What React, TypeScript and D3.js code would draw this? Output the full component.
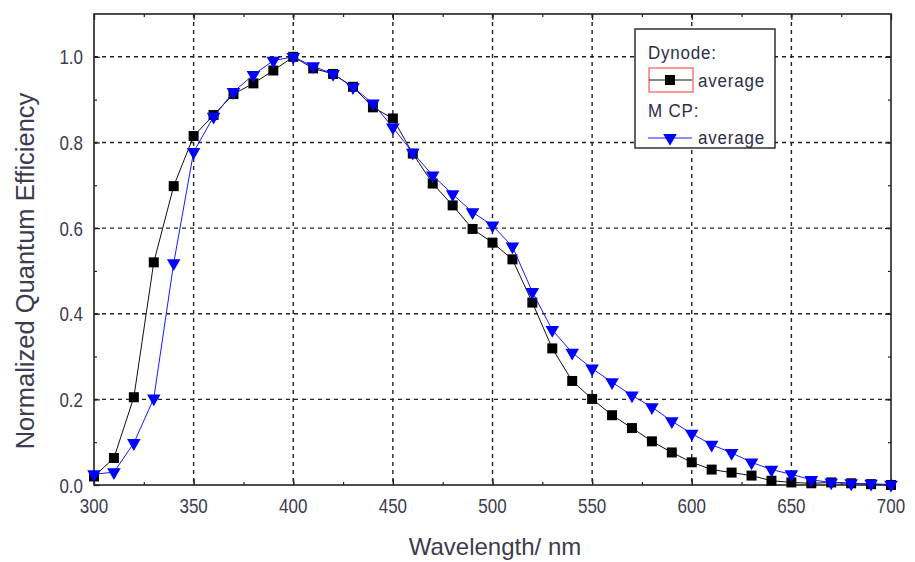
import React, { useEffect, useRef } from "react";
import * as d3 from "d3";

// wavelengths in nm, 10 nm steps
const wavelengths = [
  300, 310, 320, 330, 340, 350, 360, 370, 380, 390, 400, 410, 420, 430, 440,
  450, 460, 470, 480, 490, 500, 510, 520, 530, 540, 550, 560, 570, 580, 590,
  600, 610, 620, 630, 640, 650, 660, 670, 680, 690, 700,
];

const dynodeAvg = [
  0.02, 0.063, 0.205, 0.52, 0.698, 0.815, 0.864, 0.913, 0.938, 0.968, 1.0,
  0.973, 0.96, 0.93, 0.882, 0.856, 0.774, 0.704, 0.653, 0.598, 0.566, 0.527,
  0.426, 0.319, 0.243, 0.201, 0.163, 0.133, 0.102, 0.076, 0.053, 0.036, 0.029,
  0.022, 0.01, 0.006, 0.004, 0.006, 0.004, 0.002, 0.0,
];

const mcpAvg = [
  0.025, 0.03, 0.098, 0.202, 0.518, 0.778, 0.86, 0.918, 0.958, 0.991, 1.0,
  0.978, 0.96, 0.929, 0.891, 0.835, 0.776, 0.723, 0.679, 0.637, 0.606, 0.557,
  0.451, 0.362, 0.309, 0.272, 0.24, 0.209, 0.182, 0.149, 0.12, 0.094, 0.075,
  0.053, 0.036, 0.025, 0.012, 0.006, 0.004, 0.003, 0.001,
];

const xTicks = [300, 350, 400, 450, 500, 550, 600, 650, 700];
const yTicks = [0, 0.2, 0.4, 0.6, 0.8, 1.0];

const FONT = "'Liberation Sans', Arial, sans-serif";
const TEXT_COLOR = "#3c3c4e";

const App = () => {
  const ref = useRef<SVGSVGElement>(null);

  useEffect(() => {
    const left = 94;
    const right = 891;
    const top = 14;
    const bottom = 485;

    const x = d3.scaleLinear().domain([300, 700]).range([left, right]);
    const y = d3.scaleLinear().domain([0, 1.1]).range([bottom, top]);

    const svg = d3.select(ref.current);
    svg.selectAll("*").remove();

    // grid
    const grid = svg.append("g").attr("stroke", "#222").attr("stroke-width", 1.4)
      .attr("stroke-dasharray", "4,4");
    grid.selectAll("line.v")
      .data(xTicks.slice(1, -1))
      .enter().append("line")
      .attr("x1", (d) => x(d)).attr("x2", (d) => x(d))
      .attr("y1", top).attr("y2", bottom);
    grid.selectAll("line.h")
      .data(yTicks.slice(1))
      .enter().append("line")
      .attr("x1", left).attr("x2", right)
      .attr("y1", (d) => y(d)).attr("y2", (d) => y(d));

    // inward ticks on all four sides, no labels here
    const xMinor = d3.range(300, 701, 25);
    const yMinor = d3.range(0, 1.01, 0.1);
    const noLabel = () => "";
    const addTicks = (axis: any, tr: string) =>
      svg.append("g").attr("transform", tr).call(axis)
        .call((g: any) => g.select(".domain").remove());

    addTicks(d3.axisBottom(x).tickValues(xMinor).tickSize(-3).tickFormat(noLabel), `translate(0,${bottom})`);
    addTicks(d3.axisBottom(x).tickValues(xTicks).tickSize(-6).tickFormat(noLabel), `translate(0,${bottom})`);
    addTicks(d3.axisTop(x).tickValues(xMinor).tickSize(-3).tickFormat(noLabel), `translate(0,${top})`);
    addTicks(d3.axisTop(x).tickValues(xTicks).tickSize(-6).tickFormat(noLabel), `translate(0,${top})`);
    addTicks(d3.axisLeft(y).tickValues(yMinor).tickSize(-3).tickFormat(noLabel), `translate(${left},0)`);
    addTicks(d3.axisLeft(y).tickValues(yTicks).tickSize(-6).tickFormat(noLabel), `translate(${left},0)`);
    addTicks(d3.axisRight(y).tickValues(yMinor).tickSize(-3).tickFormat(noLabel), `translate(${right},0)`);
    addTicks(d3.axisRight(y).tickValues(yTicks).tickSize(-6).tickFormat(noLabel), `translate(${right},0)`);

    svg.selectAll(".tick line").attr("stroke", "#222").attr("stroke-width", 1.2);

    // tick labels (slightly tall glyphs, as in the source)
    const labels = svg.append("g").attr("font-family", FONT).attr("font-size", 17)
      .attr("fill", TEXT_COLOR);
    labels.selectAll("text.x")
      .data(xTicks).enter().append("text")
      .attr("text-anchor", "middle")
      .attr("transform", (d) => `translate(${x(d)},513) scale(1,1.18)`)
      .text((d) => d3.format("d")(d));
    labels.selectAll("text.y")
      .data(yTicks).enter().append("text")
      .attr("text-anchor", "end")
      .attr("transform", (d) => `translate(83,${y(d) + 7.5}) scale(1,1.18)`)
      .text((d) => d3.format(".1f")(d));

    // frame
    svg.append("rect")
      .attr("x", left).attr("y", top)
      .attr("width", right - left).attr("height", bottom - top)
      .attr("fill", "none").attr("stroke", "#222").attr("stroke-width", 1.6);

    const line = d3.line<number>()
      .x((d, i) => x(wavelengths[i]))
      .y((d) => y(d));

    const sq = d3.symbol().type(d3.symbolSquare).size(100);
    const tri = d3.symbol().type(d3.symbolTriangle).size(80);

    // Dynode series
    svg.append("path").datum(dynodeAvg)
      .attr("d", line).attr("fill", "none").attr("stroke", "#111").attr("stroke-width", 1);
    svg.append("g").selectAll("path")
      .data(dynodeAvg).enter().append("path")
      .attr("d", sq)
      .attr("transform", (d, i) => `translate(${x(wavelengths[i])},${y(d)})`)
      .attr("fill", "#000");

    // MCP series
    svg.append("path").datum(mcpAvg)
      .attr("d", line).attr("fill", "none").attr("stroke", "#1a1aff").attr("stroke-width", 1);
    svg.append("g").selectAll("path")
      .data(mcpAvg).enter().append("path")
      .attr("d", tri)
      .attr("transform", (d, i) => `translate(${x(wavelengths[i])},${y(d)}) rotate(180)`)
      .attr("fill", "#0000ff");

    // legend
    const lg = svg.append("g").attr("font-family", FONT).attr("font-size", 17)
      .attr("letter-spacing", 0.8).attr("fill", "#2e2e48");
    lg.append("rect").attr("x", 635).attr("y", 29).attr("width", 140).attr("height", 119)
      .attr("fill", "#fff").attr("stroke", "#222").attr("stroke-width", 1.4);
    lg.append("text").attr("transform", "translate(648,59) scale(1,1.12)").text("Dynode:");
    lg.append("rect").attr("x", 649).attr("y", 68).attr("width", 44).attr("height", 24)
      .attr("fill", "none").attr("stroke", "#ff3333").attr("stroke-width", 1);
    lg.append("line").attr("x1", 649).attr("x2", 692).attr("y1", 80).attr("y2", 80)
      .attr("stroke", "#111").attr("stroke-width", 1);
    lg.append("path").attr("d", sq).attr("transform", "translate(670,80)").attr("fill", "#000");
    lg.append("text").attr("transform", "translate(698,87) scale(1,1.12)").text("average");
    lg.append("text").attr("transform", "translate(648,117) scale(1,1.12)").text("M CP:");
    lg.append("line").attr("x1", 648).attr("x2", 692).attr("y1", 138).attr("y2", 138)
      .attr("stroke", "#1a1aff").attr("stroke-width", 1);
    lg.append("path").attr("d", tri).attr("transform", "translate(670,138) rotate(180)")
      .attr("fill", "#0000ff");
    lg.append("text").attr("transform", "translate(698,144) scale(1,1.12)").text("average");

    // axis titles
    svg.append("text")
      .attr("x", 495).attr("y", 555)
      .attr("text-anchor", "middle")
      .attr("font-family", FONT).attr("font-size", 24).attr("fill", TEXT_COLOR)
      .text("Wavelength/ nm");
    svg.append("text")
      .attr("transform", `translate(34,271) rotate(-90)`)
      .attr("text-anchor", "middle")
      .attr("font-family", FONT).attr("font-size", 25.5).attr("fill", TEXT_COLOR)
      .text("Normalized Quantum Efficiency");
  }, []);

  return (
    <div style={{ position: "absolute", left: 0, top: 0 }}>
      <svg ref={ref} width="915" height="562" style={{ display: "block", background: "#fff" }}></svg>
    </div>
  );
};

export default App;
